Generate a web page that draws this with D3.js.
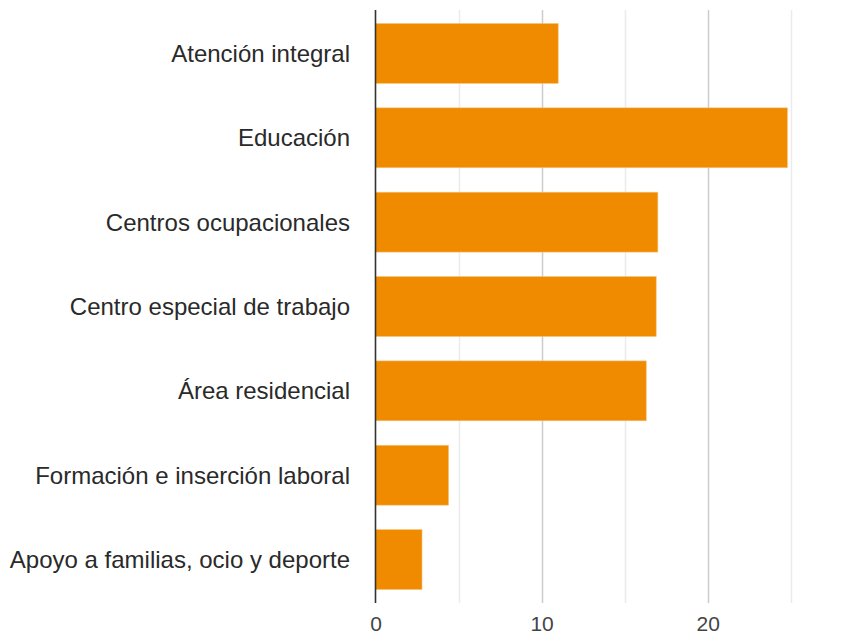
<!DOCTYPE html>
<html>
<head>
<meta charset="utf-8">
<script src="https://cdn.jsdelivr.net/npm/d3@7"></script>
<style>
  body { margin: 0; background: #fff; }
</style>
</head>
<body>
<svg id="chart" width="867" height="638"></svg>
<script>
let categories = [
    "Atención integral",
    "Educación",
    "Centros ocupacionales",
    "Centro especial de trabajo",
    "Área residencial",
    "Formación e inserción laboral",
    "Apoyo a familias, ocio y deporte"
];
let values = [11, 24.8, 17, 16.9, 16.3, 4.4, 2.8];
let gridTicks = [5, 10, 15, 20, 25];
let tickLabels = [0, 10, 20];

let fontFamily = "Arial, 'Liberation Sans', sans-serif";

let svg = d3.select("#chart");

let xScale = d3.scaleLinear()
    .domain([0, 30])
    .range([375.5, 873.8]);

let yScale = d3.scaleBand()
    .domain(categories)
    .range([10, 603])
    .paddingInner(0.29)
    .paddingOuter(0.16);

// gridlines, darker for the labelled ones
svg.selectAll(".grid")
    .data(gridTicks)
    .enter()
    .append("line")
    .attr("x1", d => Math.round(xScale(d)) + 0.5)
    .attr("x2", d => Math.round(xScale(d)) + 0.5)
    .attr("y1", 10)
    .attr("y2", 603)
    .attr("stroke", d => tickLabels.includes(d) ? "#cccccc" : "#ebebeb")
    .attr("stroke-width", 1.5);

// bars
svg.selectAll(".bar")
    .data(values)
    .enter()
    .append("rect")
    .attr("x", xScale(0))
    .attr("y", (d, i) => yScale(categories[i]))
    .attr("width", d => xScale(d) - xScale(0))
    .attr("height", yScale.bandwidth())
    .attr("fill", "#f08b00")
    .attr("stroke", "#f7c27a")
    .attr("stroke-width", 0.6);

// baseline
svg.append("line")
    .attr("x1", xScale(0))
    .attr("x2", xScale(0))
    .attr("y1", 10)
    .attr("y2", 603)
    .attr("stroke", "#333333")
    .attr("stroke-width", 1.6);

// category labels
svg.selectAll(".catLabel")
    .data(categories)
    .enter()
    .append("text")
    .attr("x", 350)
    .attr("y", d => yScale(d) + yScale.bandwidth() / 2)
    .attr("dy", "0.36em")
    .text(d => d)
    .style("font-family", fontFamily)
    .style("font-size", "24px")
    .style("text-anchor", "end")
    .style("fill", "#2a2a2a");

// x tick labels
let xAxis = svg.append("g")
    .attr("class", "x_axis")
    .attr("transform", "translate(0, 603)")
    .call(d3.axisBottom(xScale).tickValues(tickLabels).tickSize(0).tickPadding(13));
xAxis.select(".domain").remove();
xAxis.selectAll("text")
    .style("font-family", fontFamily)
    .style("font-size", "21px")
    .style("fill", "#444444");
</script>
</body>
</html>
